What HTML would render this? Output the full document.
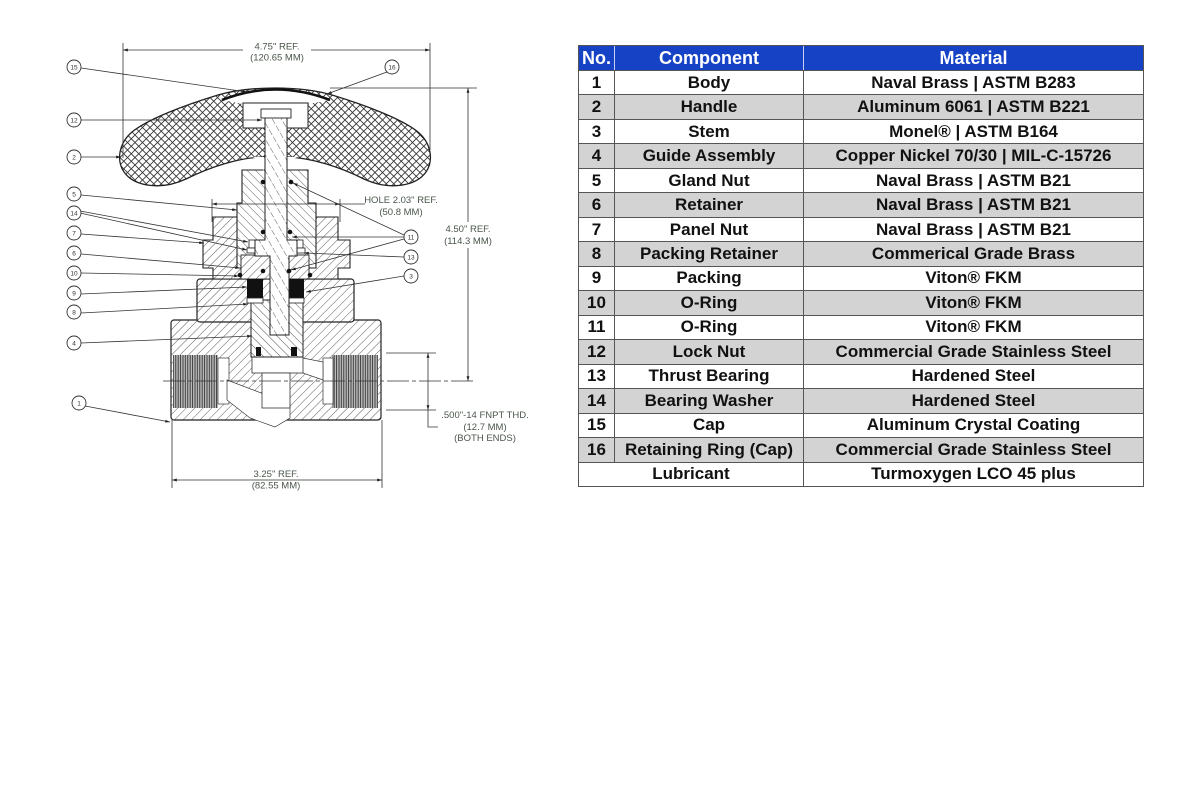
<!DOCTYPE html>
<html><head><meta charset="utf-8"><style>
html,body{margin:0;padding:0;background:#fff;width:1200px;height:800px;overflow:hidden;position:relative;font-family:"Liberation Sans",Arial,sans-serif}
svg text{font-family:"Liberation Sans",Arial,sans-serif}
.tbl{position:absolute;left:578px;top:45px;width:566px;height:442px;box-sizing:border-box;border:1px solid #555;display:flex;flex-direction:column;font-weight:bold;font-size:17px;color:#111}
.r{flex:1;display:flex;border-top:1px solid #555;min-height:0}
.r.h{flex:0 0 24px;border-top:none;background:#1642c6;color:#fff;font-size:18px}
.r.g{background:#d3d3d3}
.c{display:flex;align-items:center;justify-content:center;border-left:1px solid #555;box-sizing:border-box;white-space:nowrap}
.c1{width:35px;border-left:none}
.c2{width:189px}
.c3{flex:1}
.cl{width:224px;border-left:none}
.h .c{border-left-color:#c8d2f2}
.h .c1{border-left:none}
</style></head><body>
<svg width="560" height="500" viewBox="0 0 560 500" style="position:absolute;left:0;top:0">
<defs>
<pattern id="xh" width="7.5" height="7.5" patternUnits="userSpaceOnUse"><rect width="7.5" height="7.5" fill="#fff"/><path d="M0 0L7.5 7.5M7.5 0L0 7.5" stroke="#333" stroke-width="0.85"/></pattern>
<pattern id="h1" width="6" height="6" patternUnits="userSpaceOnUse" patternTransform="rotate(45)"><rect width="6" height="6" fill="#fff"/><line x1="0" y1="0" x2="0" y2="6" stroke="#333" stroke-width="0.8"/></pattern>
<pattern id="h2" width="6" height="6" patternUnits="userSpaceOnUse" patternTransform="rotate(-45)"><rect width="6" height="6" fill="#fff"/><line x1="0" y1="0" x2="0" y2="6" stroke="#333" stroke-width="0.8"/></pattern>
<pattern id="h3" width="8" height="8" patternUnits="userSpaceOnUse" patternTransform="rotate(-30)"><rect width="8" height="8" fill="#fff"/><line x1="0" y1="0" x2="0" y2="8" stroke="#333" stroke-width="0.8" stroke-dasharray="5 2"/></pattern>
<pattern id="vt" width="2.4" height="10" patternUnits="userSpaceOnUse"><rect width="2.4" height="10" fill="#bbb"/><line x1="0.6" y1="0" x2="0.6" y2="10" stroke="#222" stroke-width="0.8"/></pattern>
<marker id="ar" viewBox="0 0 10 10" refX="10" refY="5" markerWidth="6" markerHeight="6" orient="auto-start-reverse"><path d="M0 2L10 5L0 8z" fill="#222"/></marker>
</defs>

<!-- body -->
<rect x="171" y="320" width="210" height="100" rx="3" fill="url(#h1)" stroke="#222" stroke-width="1.2"/>
<rect x="197" y="279" width="157" height="43" rx="3" fill="url(#h1)" stroke="#222" stroke-width="1.2"/>
<!-- ports -->
<rect x="173" y="355" width="45" height="53" fill="url(#vt)"/>
<rect x="218" y="358" width="11" height="46" fill="#fff" stroke="#333" stroke-width="0.7"/>
<rect x="332" y="355" width="46" height="53" fill="url(#vt)"/>
<rect x="323" y="358" width="10" height="46" fill="#fff" stroke="#333" stroke-width="0.7"/>
<polygon points="227,380 290,404 290,418 275,427 250,418 227,400" fill="#fff" stroke="#333" stroke-width="0.7"/>
<polygon points="298,357 323,362 323,380 300,372" fill="#fff" stroke="#333" stroke-width="0.7"/>
<rect x="252" y="357" width="51" height="16" fill="#fff" stroke="#333" stroke-width="0.8"/>
<rect x="262" y="373" width="28" height="35" fill="#fff" stroke="#333" stroke-width="0.8"/>
<!-- guide assembly -->
<rect x="251" y="300" width="52" height="57" fill="url(#h2)" stroke="#222" stroke-width="1"/>
<rect x="256" y="347" width="5" height="9" fill="#111"/>
<rect x="291" y="347" width="6" height="9" fill="#111"/>
<!-- panel nut -->
<path d="M213 217L338 217L338 240L350 240L350 268L338 268L338 279L213 279L213 268L203 268L203 240L213 240Z" fill="url(#h1)" stroke="#222" stroke-width="1.1"/>
<!-- gland nut -->
<path d="M242 170L308 170L308 203L316 203L316 268L237 268L237 203L242 203Z" fill="url(#h2)" stroke="#222" stroke-width="1.1"/>
<!-- retainer -->
<rect x="241" y="255" width="68" height="24" fill="url(#h1)" stroke="#222" stroke-width="0.9"/>
<!-- packing -->
<rect x="247" y="279" width="16" height="19" fill="#111"/>
<rect x="288" y="279" width="16" height="19" fill="#111"/>
<rect x="247" y="298" width="16" height="5" fill="#fff" stroke="#222" stroke-width="0.8"/>
<rect x="288" y="298" width="16" height="5" fill="#fff" stroke="#222" stroke-width="0.8"/>
<!-- bearings -->
<rect x="249" y="240" width="13" height="8" fill="#fff" stroke="#222" stroke-width="0.8"/>
<rect x="290" y="240" width="13" height="8" fill="#fff" stroke="#222" stroke-width="0.8"/>
<rect x="247" y="248" width="17" height="5" fill="#fff" stroke="#222" stroke-width="0.8"/>
<rect x="288" y="248" width="17" height="5" fill="#fff" stroke="#222" stroke-width="0.8"/>

<!-- handle -->
<path d="M275 88C255 88 235 90 218 95C185 105 148 119 132 132C119 143 116 160 124 172C134 186 160 191 186 179C210 167 238 158 262 157L288 157C312 158 340 167 364 179C390 191 416 186 426 172C434 160 431 143 418 132C402 119 365 105 332 95C315 90 295 88 275 88Z" fill="url(#xh)" stroke="#222" stroke-width="1.3"/>
<path d="M222 100Q275 79 330 100L308 104L243 104Z" fill="#fff"/>
<path d="M222 100Q275 79 330 100" fill="none" stroke="#111" stroke-width="2.6"/>
<rect x="243" y="103" width="65" height="25" fill="#fff" stroke="#222" stroke-width="1"/>
<path d="M252 157Q262 160 264 172L264 157Z" fill="#fff"/>
<path d="M298 157Q288 160 287 172L287 157Z" fill="#fff"/>
<!-- stem -->
<path d="M265 110L287 110L287 240L297 240L297 256L289 256L289 335L270 335L270 256L255 256L255 240L265 240Z" fill="url(#h3)" stroke="#222" stroke-width="1"/>
<rect x="261" y="109" width="30" height="9" fill="#fff" stroke="#222" stroke-width="0.9"/>
<!-- o-rings -->
<g fill="#111">
<circle cx="263" cy="182" r="2.3"/><circle cx="291" cy="182" r="2.3"/>
<circle cx="263" cy="232" r="2.3"/><circle cx="290" cy="232" r="2.3"/>
<circle cx="263" cy="271" r="2.3"/><circle cx="289" cy="271" r="2.3"/>
<circle cx="240" cy="275" r="2.3"/><circle cx="310" cy="275" r="2.3"/>
</g>

<!-- centerline -->
<line x1="163" y1="381" x2="476" y2="381" stroke="#333" stroke-width="0.8" stroke-dasharray="22 3 4 3"/>

<!-- dimensions -->
<g stroke="#333" stroke-width="0.8" fill="none">
<line x1="123" y1="43" x2="123" y2="158"/>
<line x1="430" y1="43" x2="430" y2="150"/>
<line x1="123" y1="50" x2="430" y2="50" marker-start="url(#ar)" marker-end="url(#ar)"/>
<line x1="330" y1="88" x2="477" y2="88"/>
<line x1="468" y1="88" x2="468" y2="381" marker-start="url(#ar)" marker-end="url(#ar)"/>
<line x1="212" y1="199" x2="212" y2="222"/>
<line x1="340" y1="199" x2="340" y2="222"/>
<line x1="212" y1="204" x2="340" y2="204" marker-start="url(#ar)" marker-end="url(#ar)"/>
<line x1="340" y1="204" x2="365" y2="204"/>
<line x1="386" y1="353" x2="436" y2="353"/>
<line x1="386" y1="410" x2="436" y2="410"/>
<line x1="428" y1="353" x2="428" y2="410" marker-start="url(#ar)" marker-end="url(#ar)"/>
<polyline points="428,410 428,427 438,427"/>
<line x1="172" y1="420" x2="172" y2="488"/>
<line x1="382" y1="420" x2="382" y2="488"/>
<line x1="172" y1="480" x2="382" y2="480" marker-start="url(#ar)" marker-end="url(#ar)"/>
</g>
<rect x="243" y="40" width="68" height="22" fill="#fff"/>
<rect x="440" y="222" width="56" height="26" fill="#fff"/>
<rect x="243" y="468" width="66" height="10" fill="#fff"/>
<g fill="#4a564a" font-size="9.5" text-anchor="middle">
<text x="277" y="49.5">4.75" REF.</text>
<text x="277" y="60.5">(120.65 MM)</text>
<text x="468" y="232">4.50" REF.</text>
<text x="468" y="244">(114.3 MM)</text>
<text x="401" y="203">HOLE 2.03" REF.</text>
<text x="401" y="215">(50.8 MM)</text>
<text x="485" y="418">.500"-14 FNPT THD.</text>
<text x="485" y="430">(12.7 MM)</text>
<text x="485" y="441">(BOTH ENDS)</text>
<text x="276" y="477">3.25" REF.</text>
<text x="276" y="488.5">(82.55 MM)</text>
</g>

<!-- leaders -->
<g stroke="#333" stroke-width="0.8" fill="none" marker-end="url(#ar)">
<line x1="81" y1="68" x2="247" y2="92"/>
<line x1="387" y1="72" x2="327" y2="94"/>
<line x1="81" y1="120" x2="262" y2="120"/>
<line x1="81" y1="157" x2="121" y2="157"/>
<line x1="81" y1="195" x2="237" y2="210"/>
<line x1="80" y1="211" x2="248" y2="242"/>
<line x1="80" y1="213" x2="247" y2="250"/>
<line x1="81" y1="234" x2="204" y2="243"/>
<line x1="81" y1="254" x2="240" y2="268"/>
<line x1="81" y1="273" x2="239" y2="276"/>
<line x1="81" y1="294" x2="247" y2="287"/>
<line x1="81" y1="313" x2="248" y2="304"/>
<line x1="81" y1="343" x2="252" y2="336"/>
<line x1="85" y1="406" x2="170" y2="422"/>
<line x1="404" y1="235" x2="293" y2="183"/>
<line x1="404" y1="237" x2="292" y2="237"/>
<line x1="404" y1="239" x2="291" y2="270"/>
<line x1="404" y1="257" x2="304" y2="253"/>
<line x1="404" y1="276" x2="306" y2="292"/>
</g>
<!-- balloons -->
<g stroke="#333" stroke-width="0.9" fill="#fff">
<circle cx="74" cy="67" r="7"/><circle cx="74" cy="120" r="7"/><circle cx="74" cy="157" r="7"/>
<circle cx="74" cy="194" r="7"/><circle cx="74" cy="213" r="7"/><circle cx="74" cy="233" r="7"/>
<circle cx="74" cy="253" r="7"/><circle cx="74" cy="273" r="7"/><circle cx="74" cy="293" r="7"/>
<circle cx="74" cy="312" r="7"/><circle cx="74" cy="343" r="7"/><circle cx="79" cy="403" r="7"/>
<circle cx="392" cy="67" r="7"/><circle cx="411" cy="237" r="7"/><circle cx="411" cy="257" r="7"/><circle cx="411" cy="276" r="7"/>
</g>
<g fill="#333" font-size="6.5" text-anchor="middle">
<text x="74" y="69.5">15</text><text x="74" y="122.5">12</text><text x="74" y="159.5">2</text>
<text x="74" y="196.5">5</text><text x="74" y="215.5">14</text><text x="74" y="235.5">7</text>
<text x="74" y="255.5">6</text><text x="74" y="275.5">10</text><text x="74" y="295.5">9</text>
<text x="74" y="314.5">8</text><text x="74" y="345.5">4</text><text x="79" y="405.5">1</text>
<text x="392" y="69.5">16</text><text x="411" y="239.5">11</text><text x="411" y="259.5">13</text><text x="411" y="278.5">3</text>
</g>
</svg>

<div class="tbl">
<div class="r h"><div class="c c1">No.</div><div class="c c2">Component</div><div class="c c3">Material</div></div>
<div class="r"><div class="c c1">1</div><div class="c c2">Body</div><div class="c c3">Naval Brass | ASTM B283</div></div>
<div class="r g"><div class="c c1">2</div><div class="c c2">Handle</div><div class="c c3">Aluminum 6061 | ASTM B221</div></div>
<div class="r"><div class="c c1">3</div><div class="c c2">Stem</div><div class="c c3">Monel® | ASTM B164</div></div>
<div class="r g"><div class="c c1">4</div><div class="c c2">Guide Assembly</div><div class="c c3">Copper Nickel 70/30 | MIL-C-15726</div></div>
<div class="r"><div class="c c1">5</div><div class="c c2">Gland Nut</div><div class="c c3">Naval Brass | ASTM B21</div></div>
<div class="r g"><div class="c c1">6</div><div class="c c2">Retainer</div><div class="c c3">Naval Brass | ASTM B21</div></div>
<div class="r"><div class="c c1">7</div><div class="c c2">Panel Nut</div><div class="c c3">Naval Brass | ASTM B21</div></div>
<div class="r g"><div class="c c1">8</div><div class="c c2">Packing Retainer</div><div class="c c3">Commerical Grade Brass</div></div>
<div class="r"><div class="c c1">9</div><div class="c c2">Packing</div><div class="c c3">Viton® FKM</div></div>
<div class="r g"><div class="c c1">10</div><div class="c c2">O-Ring</div><div class="c c3">Viton® FKM</div></div>
<div class="r"><div class="c c1">11</div><div class="c c2">O-Ring</div><div class="c c3">Viton® FKM</div></div>
<div class="r g"><div class="c c1">12</div><div class="c c2">Lock Nut</div><div class="c c3">Commercial Grade Stainless Steel</div></div>
<div class="r"><div class="c c1">13</div><div class="c c2">Thrust Bearing</div><div class="c c3">Hardened Steel</div></div>
<div class="r g"><div class="c c1">14</div><div class="c c2">Bearing Washer</div><div class="c c3">Hardened Steel</div></div>
<div class="r"><div class="c c1">15</div><div class="c c2">Cap</div><div class="c c3">Aluminum Crystal Coating</div></div>
<div class="r g"><div class="c c1">16</div><div class="c c2">Retaining Ring (Cap)</div><div class="c c3">Commercial Grade Stainless Steel</div></div>
<div class="r"><div class="c cl">Lubricant</div><div class="c c3">Turmoxygen LCO 45 plus</div></div>
</div>
</body></html>
